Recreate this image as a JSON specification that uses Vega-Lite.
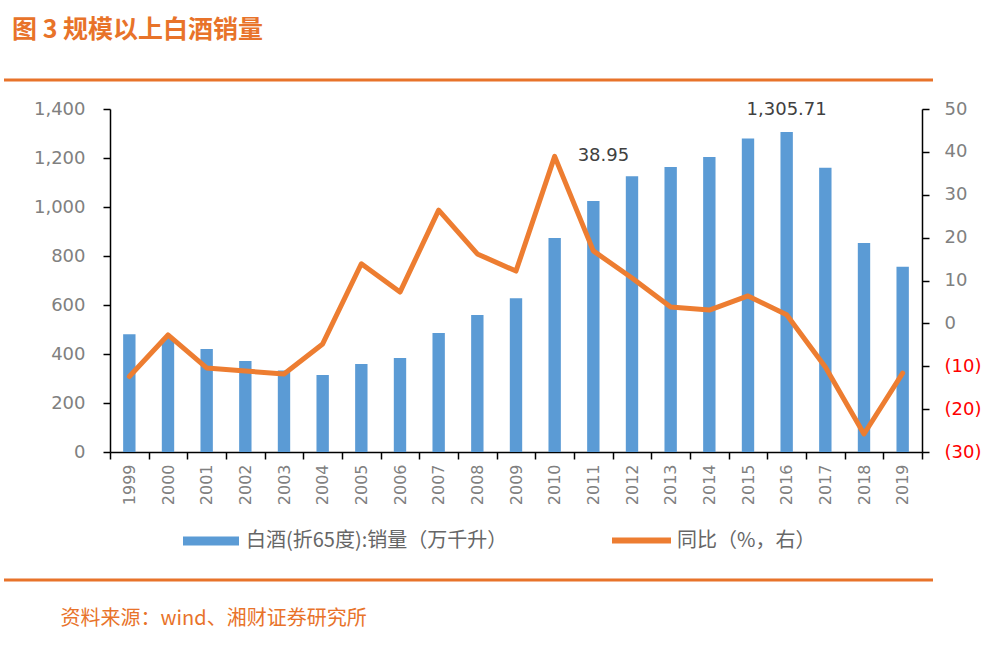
{
  "$schema": "https://vega.github.io/schema/vega-lite/v6.json",
  "width": 812,
  "height": 343,
  "autosize": {"type": "none"},
  "padding": {"left": 110, "top": 109, "right": 78, "bottom": 196},
  "background": "white",
  "config": {"view": {"stroke": null}, "axis": {"grid": false}},
  "title": {
    "text": "图 3 规模以上白酒销量",
    "anchor": "start",
    "frame": "group",
    "orient": "top",
    "dx": -98,
    "offset": 36,
    "font": "Noto Sans CJK SC",
    "fontSize": 25,
    "fontWeight": "bold",
    "color": "#E8732A"
  },
  "data": {
    "values": [
      {"year": "1999", "sales": 481, "yoy": -12.4},
      {"year": "2000", "sales": 465, "yoy": -2.7},
      {"year": "2001", "sales": 420, "yoy": -10.4},
      {"year": "2002", "sales": 371, "yoy": -11.1},
      {"year": "2003", "sales": 333, "yoy": -11.8},
      {"year": "2004", "sales": 314, "yoy": -4.8},
      {"year": "2005", "sales": 359, "yoy": 13.9},
      {"year": "2006", "sales": 384, "yoy": 7.3},
      {"year": "2007", "sales": 486, "yoy": 26.4},
      {"year": "2008", "sales": 559, "yoy": 16.2},
      {"year": "2009", "sales": 628, "yoy": 12.2},
      {"year": "2010", "sales": 873, "yoy": 38.95},
      {"year": "2011", "sales": 1024, "yoy": 16.9},
      {"year": "2012", "sales": 1126, "yoy": 10.6},
      {"year": "2013", "sales": 1163, "yoy": 3.8},
      {"year": "2014", "sales": 1204, "yoy": 3.1},
      {"year": "2015", "sales": 1280, "yoy": 6.4},
      {"year": "2016", "sales": 1305.71, "yoy": 2.0},
      {"year": "2017", "sales": 1160, "yoy": -10.2},
      {"year": "2018", "sales": 853, "yoy": -25.8},
      {"year": "2019", "sales": 756, "yoy": -11.6}
    ]
  },
  "encoding": {
    "x": {
      "field": "year",
      "type": "ordinal",
      "scale": {"paddingInner": 0, "paddingOuter": 0},
      "axis": {
        "title": "资料来源：wind、湘财证券研究所",
        "titleX": -50,
        "titleY": 166,
        "titleAnchor": "start",
        "titleAlign": "left",
        "titleBaseline": "middle",
        "titleColor": "#E8732A",
        "titleFont": "Noto Sans CJK SC",
        "titleFontSize": 20,
        "titleFontWeight": "normal",
        "labelAngle": 270,
        "labelFont": "DejaVu Sans",
        "labelFontSize": 16,
        "labelColor": "#808080",
        "labelPadding": 5,
        "tickBand": "extent",
        "tickSize": 7,
        "tickColor": "black",
        "tickWidth": 1.5,
        "domainColor": "black",
        "domainWidth": 1.5
      }
    }
  },
  "layer": [
    {
      "encoding": {
        "y": {
          "field": "sales",
          "type": "quantitative",
          "scale": {"domain": [0, 1400]},
          "axis": {
            "orient": "left",
            "title": null,
            "values": [0, 200, 400, 600, 800, 1000, 1200, 1400],
            "format": ",.0f",
            "labelFont": "DejaVu Sans",
            "labelFontSize": 18,
            "labelColor": "#808080",
            "labelPadding": 18,
            "tickSize": 7,
            "tickColor": "black",
            "tickWidth": 1.5,
            "domainColor": "black",
            "domainWidth": 1.5
          }
        }
      },
      "layer": [
        {
          "mark": {"type": "bar", "width": {"band": 0.32}},
          "encoding": {
            "color": {
              "datum": "白酒(折65度):销量（万千升）",
              "type": "nominal",
              "scale": {"range": ["#5B9BD5"]},
              "legend": {
                "orient": "none",
                "legendX": 73,
                "legendY": 404,
                "title": null,
                "padding": 0,
                "symbolType": "M-1,-0.16H1V0.16H-1Z",
                "symbolSize": 3136,
                "symbolStrokeWidth": 0,
                "labelFont": "Noto Sans CJK SC",
                "labelFontSize": 20,
                "labelColor": "#666666",
                "labelOffset": 7,
                "labelLimit": 400
              }
            }
          }
        },
        {
          "transform": [{"filter": "datum.year == '2016'"}],
          "mark": {"type": "text", "baseline": "middle", "dy": -22, "font": "DejaVu Sans", "fontSize": 18, "color": "#404040"},
          "encoding": {"text": {"field": "sales", "type": "quantitative", "format": ",.2f"}}
        }
      ]
    },
    {
      "encoding": {
        "y": {
          "field": "yoy",
          "type": "quantitative",
          "scale": {"domain": [-30, 50]},
          "axis": {
            "orient": "right",
            "title": null,
            "values": [-30, -20, -10, 0, 10, 20, 30, 40, 50],
            "labelExpr": "datum.value < 0 ? '(' + abs(datum.value) + ')' : datum.label",
            "labelColor": {"condition": {"test": "datum.value < 0", "value": "#FF0000"}, "value": "#808080"},
            "labelFont": "DejaVu Sans",
            "labelFontSize": 18,
            "labelPadding": 15,
            "tickSize": 7,
            "tickColor": "black",
            "tickWidth": 1.5,
            "domainColor": "black",
            "domainWidth": 1.5
          }
        }
      },
      "layer": [
        {
          "mark": {"type": "line", "strokeWidth": 5, "strokeJoin": "round", "strokeCap": "round"},
          "encoding": {
            "stroke": {
              "datum": "同比（%，右）",
              "type": "nominal",
              "scale": {"range": ["#ED7D31"]},
              "legend": {
                "orient": "none",
                "legendX": 499,
                "legendY": 399,
                "title": null,
                "padding": 0,
                "symbolType": "stroke",
                "symbolSize": 3481,
                "symbolStrokeWidth": 6,
                "labelFont": "Noto Sans CJK SC",
                "labelFontSize": 20,
                "labelColor": "#666666",
                "labelOffset": 3,
                "labelLimit": 400
              }
            }
          }
        },
        {
          "transform": [{"filter": "datum.year == '2010'"}],
          "mark": {"type": "text", "align": "left", "baseline": "middle", "dx": 23, "font": "DejaVu Sans", "fontSize": 18, "color": "#404040"},
          "encoding": {"text": {"field": "yoy", "type": "quantitative", "format": ".2f"}}
        }
      ]
    },
    {
      "data": {"values": [{}]},
      "mark": {"type": "rule", "color": "#E8732A", "strokeWidth": 3},
      "encoding": {"x": {"value": -106}, "x2": {"value": 823}, "y": {"value": -29}}
    },
    {
      "data": {"values": [{}]},
      "mark": {"type": "rule", "color": "#E8732A", "strokeWidth": 3},
      "encoding": {"x": {"value": -106}, "x2": {"value": 823}, "y": {"value": 471}}
    }
  ],
  "resolve": {"scale": {"y": "independent"}}
}
